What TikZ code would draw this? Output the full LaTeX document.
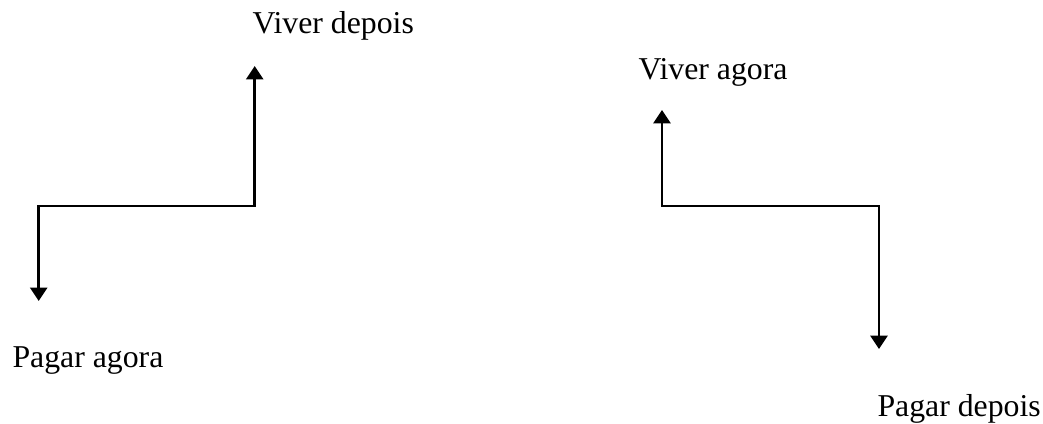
\documentclass[tikz,border=0pt]{standalone}
\usepackage{fontspec}
\setmainfont{Liberation Serif}
\usepackage{tikz}
\usetikzlibrary{positioning,arrows.meta}
\tikzset{%
  arrow/.style    = { {Triangle[width=6.6pt,length=5.2pt]}-{Triangle[width=6.6pt,length=5.2pt]},
                      line width = 1.05pt, draw = black },
  lbl/.style      = { anchor = base west, inner sep = 0pt,
                      font = \fontsize{12.3}{14}\selectfont }
}

\begin{document}
\begin{tikzpicture}[x=0.387pt, y=-0.387pt]
\useasboundingbox (0,0) rectangle (1043,423);

% left: pagar agora, viver depois
\node(VD) [lbl] at (252,33)  {Viver depois};
\node(PA) [lbl] at (12,367)  {Pagar agora};
\coordinate (PAtip) at (38.7,301);
\coordinate (PAcor) at (38.7,206);
\coordinate (VDcor) at (254.7,206);
\coordinate (VDtip) at (254.7,66);
\draw[arrow] (PAtip) -- (PAcor) -- (VDcor) -- (VDtip);

% right: viver agora, pagar depois
\node(VA) [lbl] at (638,79)  {Viver agora};
\node(PD) [lbl] at (877,416) {Pagar depois};
\coordinate (VAtip) at (662,110);
\coordinate (VAcor) at (662,206);
\coordinate (PDcor) at (879,206);
\coordinate (PDtip) at (879,349);
\draw[arrow] (VAtip) -- (VAcor) -- (PDcor) -- (PDtip);
\end{tikzpicture}
\end{document}
